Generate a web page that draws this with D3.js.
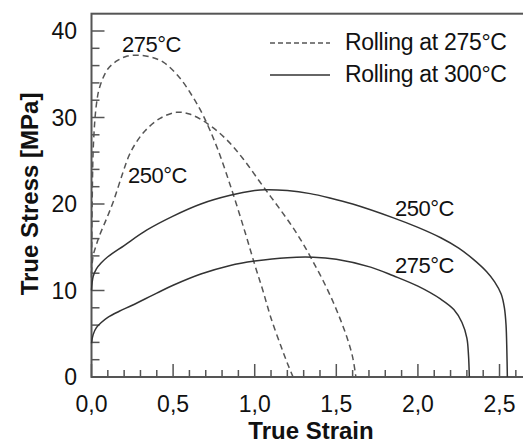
<!DOCTYPE html>
<html>
<head>
<meta charset="utf-8">
<script src="https://cdn.jsdelivr.net/npm/d3@7"></script>
<style>
    body { margin: 0; background: #fff; }
    text { font-family: "Liberation Sans", Arial, sans-serif; fill: #111; }
</style>
</head>
<body>
<div id="chart"></div>
<script>
// Data: [true strain, true stress MPa]
const dashed275 = [[0, 11.5], [0.004, 20], [0.012, 27], [0.03, 31.5], [0.05, 33.5], [0.1, 35.6], [0.16, 36.6],
    [0.22, 37.1], [0.29, 37.2], [0.36, 37.0], [0.44, 36.4], [0.54, 34.6], [0.62, 32.4], [0.685, 30.2],
    [0.77, 26.5], [0.86, 21.6], [0.94, 16.8], [1.0, 13.0], [1.05, 10], [1.1, 6.8], [1.16, 3.6],
    [1.2, 1.6], [1.235, 0]];
const dashed250 = [[0, 12], [0.01, 14], [0.03, 15.3], [0.05, 16.4], [0.09, 18.2], [0.134, 20.3], [0.19, 23.5],
    [0.23, 25.6], [0.27, 27.0], [0.33, 28.5], [0.42, 29.9], [0.52, 30.6], [0.6, 30.4], [0.71, 29.3],
    [0.83, 27.4], [0.93, 25.2], [1.03, 22.6], [1.1, 20.8], [1.17, 19.0], [1.23, 17.4], [1.29, 15.6],
    [1.35, 13.6], [1.42, 11.1], [1.48, 8.7], [1.53, 6.4], [1.57, 4.3], [1.6, 2.3], [1.62, 0]];
const solid250 = [[0, 10], [0.01, 11.6], [0.03, 12.5], [0.06, 13.2], [0.1, 13.9], [0.2, 15.2], [0.34, 17.0],
    [0.5, 18.6], [0.67, 20.0], [0.85, 21.0], [1.0, 21.55], [1.065, 21.65], [1.2, 21.55], [1.34, 21.2],
    [1.46, 20.7], [1.6, 20.0], [1.85, 18.4], [2.0, 17.3], [2.14, 16.1], [2.25, 14.9], [2.34, 13.6],
    [2.42, 12.2], [2.47, 11.0], [2.51, 9.6], [2.53, 8.0], [2.54, 6.0], [2.545, 3], [2.548, 0]];
const solid275 = [[0, 3.9], [0.01, 4.9], [0.03, 5.7], [0.06, 6.3], [0.1, 6.9], [0.17, 7.6], [0.25, 8.3],
    [0.4, 9.7], [0.5, 10.6], [0.67, 11.9], [0.85, 12.9], [1.0, 13.4], [1.2, 13.8], [1.36, 13.85],
    [1.5, 13.6], [1.71, 12.7], [1.85, 11.7], [2.0, 10.5], [2.14, 9.0], [2.22, 7.8], [2.27, 6.3],
    [2.3, 4.5], [2.31, 2.5], [2.315, 0]];

const xTicks = [0, 0.5, 1.0, 1.5, 2.0, 2.5];
const yTicks = [0, 10, 20, 30, 40];
const legendLabels = ["Rolling at 275\u00B0C", "Rolling at 300\u00B0C"];

// Layout
const width = 523;
const height = 446;
const fontSize = 23;

let svg = d3.select("#chart")
    .append("svg")
    .attr("width", width)
    .attr("height", height);

let x = d3.scaleLinear().domain([0, 2.65]).range([91.5, 524]);
let y = d3.scaleLinear().domain([0, 42]).range([377, 13.7]);

// Frame: top line, left and bottom axes
svg.append("rect")
    .attr("x", x(0))
    .attr("y", y(42))
    .attr("width", 540 - x(0))
    .attr("height", y(0) - y(42))
    .attr("fill", "none")
    .attr("stroke", "#555")
    .attr("stroke-width", 2);

// Ticks point inward, minor every 0.1 / 2 MPa
let xMinor = d3.range(0, 27).map((i) => i / 10);
svg.selectAll("line.xtick")
    .data(xMinor)
    .enter()
    .append("line")
    .attr("class", "xtick")
    .attr("x1", (d) => x(d))
    .attr("x2", (d) => x(d))
    .attr("y1", y(0))
    .attr("y2", (d, i) => y(0) - (i % 5 === 0 ? 13 : 7))
    .attr("stroke", "#555")
    .attr("stroke-width", 1.5);

let yMinor = d3.range(0, 21).map((i) => i * 2);
svg.selectAll("line.ytick")
    .data(yMinor)
    .enter()
    .append("line")
    .attr("class", "ytick")
    .attr("x1", x(0))
    .attr("x2", (d, i) => x(0) + (i % 5 === 0 ? 13 : 8))
    .attr("y1", (d) => y(d))
    .attr("y2", (d) => y(d))
    .attr("stroke", "#555")
    .attr("stroke-width", 1.5);

// Tick labels with decimal comma
svg.selectAll("text.xlabel")
    .data(xTicks)
    .enter()
    .append("text")
    .attr("class", "xlabel")
    .attr("x", (d) => x(d))
    .attr("y", 412)
    .attr("text-anchor", "middle")
    .attr("font-size", fontSize)
    .text((d) => d.toFixed(1).replace(".", ","));

svg.selectAll("text.ylabel")
    .data(yTicks)
    .enter()
    .append("text")
    .attr("class", "ylabel")
    .attr("x", 77)
    .attr("y", (d) => y(d) + 8)
    .attr("text-anchor", "end")
    .attr("font-size", fontSize)
    .text((d) => d);

// Axis titles
svg.append("text")
    .attr("x", 311)
    .attr("y", 439)
    .attr("text-anchor", "middle")
    .attr("font-size", 24)
    .attr("font-weight", "bold")
    .text("True Strain");

svg.append("text")
    .attr("transform", "translate(38,194) rotate(-90)")
    .attr("text-anchor", "middle")
    .attr("font-size", 24)
    .attr("font-weight", "bold")
    .text("True Stress [MPa]");

// Curves
let line = d3.line()
    .x((d) => x(d[0]))
    .y((d) => y(d[1]))
    .curve(d3.curveCatmullRom.alpha(0.5));

function drawCurve(data, dashed) {
    svg.append("path")
        .datum(data)
        .attr("d", line)
        .attr("fill", "none")
        .attr("stroke", dashed ? "#555" : "#333")
        .attr("stroke-width", 1.5)
        .attr("stroke-dasharray", dashed ? "6,4" : null);
}

drawCurve(dashed275, true);
drawCurve(dashed250, true);
drawCurve(solid250, false);
drawCurve(solid275, false);

// Curve annotations
const annotations = [
    { label: "275\u00B0C", x: 122, y: 52 },
    { label: "250\u00B0C", x: 128, y: 183 },
    { label: "250\u00B0C", x: 395, y: 216 },
    { label: "275\u00B0C", x: 395, y: 273 }
];
svg.selectAll("text.note")
    .data(annotations)
    .enter()
    .append("text")
    .attr("class", "note")
    .attr("x", (d) => d.x)
    .attr("y", (d) => d.y)
    .attr("font-size", 22)
    .attr("letter-spacing", -0.5)
    .text((d) => d.label);

// Legend
legendLabels.forEach((label, i) => {
    let ly = 43 + i * 32;
    svg.append("line")
        .attr("x1", 270)
        .attr("x2", 330)
        .attr("y1", ly)
        .attr("y2", ly)
        .attr("stroke", i === 0 ? "#555" : "#333")
        .attr("stroke-width", 1.5)
        .attr("stroke-dasharray", i === 0 ? "5,3" : null);
    svg.append("text")
        .attr("x", 345)
        .attr("y", ly + 7)
        .attr("font-size", fontSize)
        .attr("letter-spacing", -0.3)
        .text(label);
});
</script>
</body>
</html>
